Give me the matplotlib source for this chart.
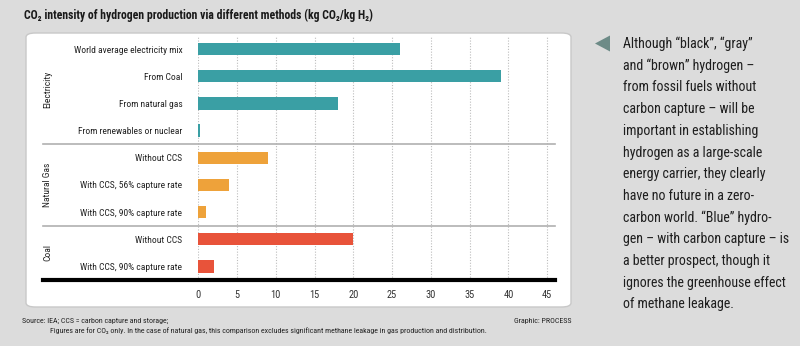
import matplotlib.pyplot as plt
from matplotlib import font_manager
from matplotlib.patches import FancyBboxPatch, Polygon

labels = ["World average electricity mix", "From Coal", "From natural gas",
          "From renewables or nuclear", "Without CCS", "With CCS, 56% capture rate",
          "With CCS, 90% capture rate", "Without CCS", "With CCS, 90% capture rate"]
values = [26, 39, 18, 0.2, 9, 4, 1, 20, 2]
groups = ["Electricity", "Electricity", "Electricity", "Electricity",
          "Natural Gas", "Natural Gas", "Natural Gas", "Coal", "Coal"]
group_colors = {"Electricity": "#3a9fa4", "Natural Gas": "#eea23a", "Coal": "#e8533a"}
xticks = [0, 5, 10, 15, 20, 25, 30, 35, 40, 45]

note = ["Although \u201cblack\u201d, \u201cgray\u201d",
        "and \u201cbrown\u201d hydrogen \u2013",
        "from fossil fuels without",
        "carbon capture \u2013 will be",
        "important in establishing",
        "hydrogen as a large-scale",
        "energy carrier, they clearly",
        "have no future in a zero-",
        "carbon world. \u201cBlue\u201d hydro-",
        "gen \u2013 with carbon capture \u2013 is",
        "a better prospect, though it",
        "ignores the greenhouse effect",
        "of methane leakage."]

# pick a condensed face if one is installed
fonts = font_manager.fontManager.ttflist
names = {f.name for f in fonts}
stretch = "normal"
family = None
for cand in ["Liberation Sans Narrow", "Roboto Condensed", "Open Sans Condensed",
             "DejaVu Sans Condensed", "Noto Sans Condensed"]:
    if cand in names:
        family = cand
        break
if family is None:
    cond = [f for f in fonts if f.name == "DejaVu Sans" and "ondensed" in str(f.stretch)
            or (f.name == "DejaVu Sans" and str(f.stretch).isdigit() and int(f.stretch) < 500)]
    if cond:
        family = "DejaVu Sans"
        stretch = "condensed"
if family is None:
    family = "Roboto"
narrow = family != "Roboto"
scale = 1.0 if narrow else 0.86

plt.rcParams["font.family"] = [family, "DejaVu Sans"]
plt.rcParams["font.stretch"] = stretch

W, H = 800, 346
fig = plt.figure(figsize=(W / 100, H / 100), dpi=100)
fig.patch.set_facecolor("#dcdcdc")

# white rounded panel behind the chart
panel = FancyBboxPatch((26 / W, 1 - 307 / H), (571 - 26) / W, (307 - 33) / H,
                       boxstyle="round,pad=0,rounding_size=0.012",
                       transform=fig.transFigure, facecolor="white",
                       edgecolor="#c8c8c8", linewidth=1.0, zorder=-5)
fig.add_artist(panel)

fig.text(24 / W, 1 - 15 / H,
         "CO\u2082 intensity of hydrogen production via different methods (kg CO\u2082/kg H\u2082)",
         fontsize=8.5 * scale, fontweight="bold", color="#1a1a1a", va="center", ha="left")

lab_fs = 6.8 * scale
ax = fig.add_axes([198.3 / W, 1 - 280 / H, 356.7 / W, 244.5 / H])
ax.set_facecolor("none")
pos = list(range(len(labels)))
ax.barh(pos, values, height=0.45, color=[group_colors[g] for g in groups], zorder=3)
ax.set_xlim(0, 46)
ax.set_ylim(8.5, -0.5)
ax.set_yticks(pos)
ax.set_yticklabels(labels, fontsize=lab_fs, color="#222222")
ax.set_xticks(xticks)
ax.set_xticklabels([str(t) for t in xticks], fontsize=7.5 * scale, color="#333333")
ax.tick_params(axis="y", length=0, pad=11.5)
ax.tick_params(axis="x", length=0, pad=7)
for s in ax.spines.values():
    s.set_visible(False)
for t in xticks:
    ax.axvline(t, color="#bdbdbd", linestyle=(0, (1, 1.5)), linewidth=0.8, zorder=1)

left = (43 - 198.3) / 356.7
for y in [3.5, 6.5]:
    ax.axhline(y, xmin=left, xmax=1, color="#b0b0b0", linewidth=1.2, clip_on=False, zorder=2)
ax.axhline(8.5, xmin=left, xmax=1, color="black", linewidth=3, clip_on=False, zorder=4)

gx = (48 - 198.3) / 356.7
ytr = ax.get_yaxis_transform()
for name, yc in [("Electricity", 1.5), ("Natural Gas", 5), ("Coal", 7.5)]:
    ax.text(gx, yc, name, transform=ytr, rotation=90, ha="center", va="center",
            fontsize=lab_fs, color="#222222")

# side note
tri = Polygon([(595 / W, 1 - 43.5 / H), (610 / W, 1 - 35.5 / H), (610 / W, 1 - 51.5 / H)],
              closed=True, transform=fig.transFigure, facecolor="#6d8b87", edgecolor="none")
fig.add_artist(tri)
for i, line in enumerate(note):
    fig.text(623 / W, 1 - (44 + 21.7 * i) / H, line, fontsize=10 * scale, color="#1e1e1e",
             va="center", ha="left")

foot_fs = 5.7 * scale
fig.text(22 / W, 1 - 321 / H, "Source: IEA; CCS = carbon capture and storage;",
         fontsize=foot_fs, color="#222222", va="center")
fig.text(50 / W, 1 - 331 / H,
         "Figures are for CO\u2082 only. In the case of natural gas, this comparison excludes "
         "significant methane leakage in gas production and distribution.",
         fontsize=foot_fs, color="#222222", va="center")
fig.text(572 / W, 1 - 321 / H, "Graphic: PROCESS", fontsize=foot_fs, color="#222222",
         va="center", ha="right")

fig.savefig("out.png", dpi=100, facecolor=fig.get_facecolor())
